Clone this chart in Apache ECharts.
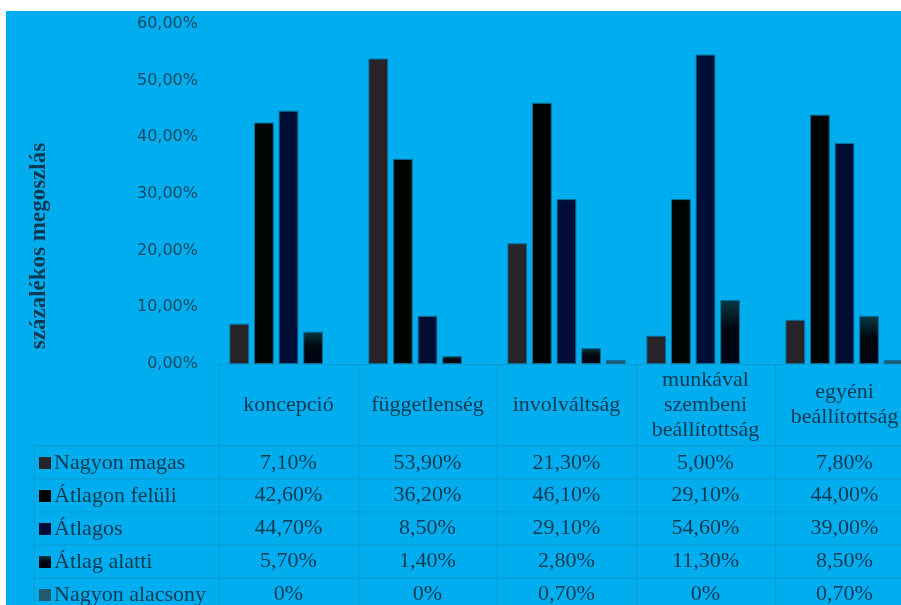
<!DOCTYPE html>
<html>
<head>
<meta charset="utf-8">
<script src="https://cdn.jsdelivr.net/npm/echarts@6/dist/echarts.min.js"></script>
<style>
html,body{margin:0;padding:0;background:#ffffff;width:901px;height:605px;overflow:hidden;}
#chart{position:absolute;left:6px;top:11px;width:895px;height:594px;}
</style>
</head>
<body>
<div id="chart"></div>
<script>
// ---- data ----
var categories = ['koncepció', 'függetlenség', 'involváltság', 'munkával\nszembeni\nbeállítottság', 'egyéni\nbeállítottság'];
var seriesNames = ['Nagyon magas', 'Átlagon felüli', 'Átlagos', 'Átlag alatti', 'Nagyon alacsony'];
var nagyonMagas    = [7.1, 53.9, 21.3, 5.0, 7.8];
var atlagonFeluli  = [42.6, 36.2, 46.1, 29.1, 44.0];
var atlagos        = [44.7, 8.5, 29.1, 54.6, 39.0];
var atlagAlatti    = [5.7, 1.4, 2.8, 11.3, 8.5];
var nagyonAlacsony = [0, 0, 0.7, 0, 0.7];
var yTicks = [0, 10, 20, 30, 40, 50, 60];
var axisTitle = 'százalékos megoszlás';

var rows = [nagyonMagas, atlagonFeluli, atlagos, atlagAlatti, nagyonAlacsony];

// ---- styles ----
var BLUE = '#00AEEF';
var LINE = '#0b9bd3';
var TXT = '#0a3a52';
var AXTXT = '#104a63';
var SERIF = '"Liberation Serif", "DejaVu Serif", serif';
var SANS = '"DejaVu Sans", Verdana, sans-serif';
var colors = [
  '#272328',
  '#000400',
  '#000e36',
  new echarts.graphic.LinearGradient(0, 0, 0, 1, [
    {offset: 0, color: '#0a3a44'},
    {offset: 0.45, color: '#00060f'},
    {offset: 1, color: '#000412'}
  ]),
  '#235a70'
];

function fmtVal(v) {
  if (v === 0) return '0%';
  return v.toFixed(2).replace('.', ',') + '%';
}

var chart = echarts.init(document.getElementById('chart'), null, {renderer: 'canvas'});
var W = 895, H = 594;
var AXIS_Y = 353; // container coords
var rowMargins = [99, 131.5, 164, 197, 230];

var xAxes = [{
  type: 'category',
  data: categories,
  position: 'bottom',
  axisLine: {show: true, lineStyle: {color: LINE, width: 1}},
  axisTick: {show: true, interval: 0, length: H - AXIS_Y, lineStyle: {color: LINE, width: 1}},
  axisLabel: {
    interval: 0, margin: 41, verticalAlign: 'middle',
    fontFamily: SERIF, fontSize: 22, lineHeight: 25, color: TXT, align: 'center'
  },
  splitLine: {show: false}
}];
rows.forEach(function (r, i) {
  xAxes.push({
    type: 'category',
    data: categories,
    position: 'bottom',
    offset: 0,
    axisLine: {show: false},
    axisTick: {show: false},
    splitLine: {show: false},
    axisLabel: {
      interval: 0, margin: rowMargins[i], verticalAlign: 'middle',
      fontFamily: SERIF, fontSize: 22, color: TXT,
      formatter: function (val, idx) { return fmtVal(r[idx]); }
    }
  });
});

var series = seriesNames.map(function (name, i) {
  return {
    name: name,
    type: 'bar',
    xAxisIndex: 0,
    data: rows[i].map(function (v) {
      return v === 0 ? {value: 0, itemStyle: {borderWidth: 0, opacity: 0}} : v;
    }),
    barGap: '25%',
    barCategoryGap: '15%',
    itemStyle: {color: colors[i], borderColor: '#0d6e98', borderWidth: 1},
    emphasis: {disabled: true}
  };
});

var hLines = [435, 468, 501, 534, 567].map(function (y) {
  return {type: 'line', shape: {x1: 28, y1: y, x2: W, y2: y}, style: {stroke: LINE, lineWidth: 1}, z: 1};
});
hLines.push({type: 'line', shape: {x1: 28, y1: 435, x2: 28, y2: H}, style: {stroke: LINE, lineWidth: 1}, z: 1});

var option = {
  backgroundColor: BLUE,
  animation: false,
  grid: {left: 213, width: 695, top: 13, height: AXIS_Y - 13, containLabel: false, outerBoundsMode: 'none'},
  legend: {
    orient: 'vertical',
    left: 33, top: 440,
    height: 200,
    padding: 0,
    itemWidth: 12, itemHeight: 12,
    itemGap: 9,
    icon: 'rect',
    selectedMode: false,
    itemStyle: {borderWidth: 0},
    textStyle: {fontFamily: SERIF, fontSize: 22, lineHeight: 24, color: TXT, padding: [0, 0, 0, -2]},
    data: seriesNames
  },
  xAxis: xAxes,
  yAxis: {
    type: 'value',
    min: yTicks[0], max: yTicks[yTicks.length - 1], interval: 10,
    axisLine: {show: false},
    axisTick: {show: false},
    splitLine: {show: false},
    axisLabel: {
      margin: 21, fontFamily: SANS, fontSize: 16, color: AXTXT,
      formatter: function (v) { return v.toFixed(2).replace('.', ',') + '%'; }
    }
  },
  graphic: hLines.concat([{
    type: 'text',
    x: 33, y: 235,
    rotation: Math.PI / 2,
    style: {
      text: axisTitle, fontFamily: SERIF, fontSize: 23, fontWeight: 'bold',
      fill: TXT, textAlign: 'center', textVerticalAlign: 'middle'
    }
  }]),
  series: series
};
chart.setOption(option);
</script>
</body>
</html>
